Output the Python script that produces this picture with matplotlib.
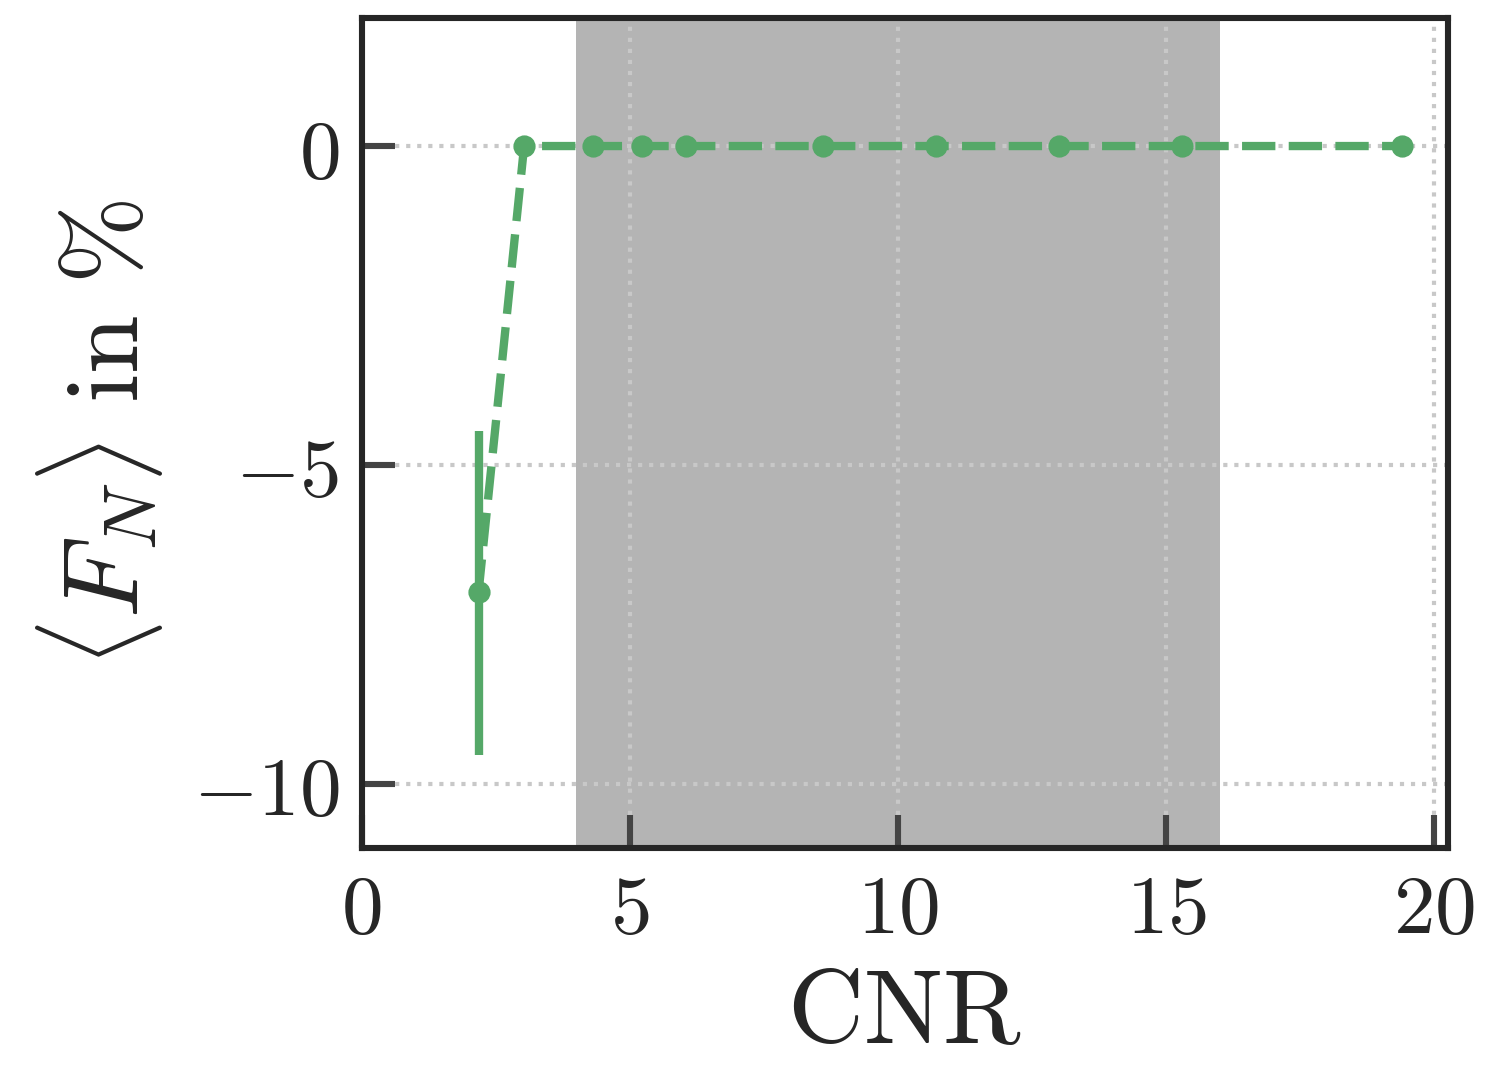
import numpy as np
import matplotlib
matplotlib.use("Agg")
import matplotlib.pyplot as plt

cnr = [2.18, 3.03, 4.32, 5.23, 6.05, 8.61, 10.7, 13.0, 15.3, 19.4]
fn = [-7.0, 0, 0, 0, 0, 0, 0, 0, 0, 0]
err_lo = [2.55, 0, 0, 0, 0, 0, 0, 0, 0, 0]
err_hi = [2.53, 0, 0, 0, 0, 0, 0, 0, 0, 0]
shade = (4, 16)

plt.rcParams.update({
    "mathtext.fontset": "cm",
    "font.family": "serif",
    "font.serif": ["DejaVu Serif"],
})
green = "#55a868"
dark = "#262626"

fig, ax = plt.subplots(figsize=(7.44, 5.44), dpi=200)
fig.subplots_adjust(left=0.243, right=0.973, top=0.983, bottom=0.221)

ax.axvspan(*shade, color="#b4b4b4", lw=0, zorder=0)
ax.errorbar(cnr, fn, yerr=[err_lo, err_hi], color=green, ls="--", lw=3,
            marker="o", ms=7, elinewidth=3, capsize=0, zorder=3, dashes=(4, 1.6))

ax.set_xlim(0, 20.25)
ax.set_ylim(-11, 2)
ax.set_xticks([0, 5, 10, 15, 20])
ax.set_yticks([-10, -5, 0])
ax.set_xticklabels([f"${v}$" for v in [0, 5, 10, 15, 20]])
ax.set_yticklabels(["$-10$", "$-5$", "$0$"])
ax.grid(True, ls=":", color="#c8c8c8", lw=1.5, zorder=1)
ax.set_axisbelow(True)
ax.tick_params(direction="in", length=12, width=2.2, color="#444444",
               labelsize=30, labelcolor=dark, pad=8)
for s in ax.spines.values():
    s.set_linewidth(2.2)
    s.set_color(dark)
ax.set_xlabel(r"$\mathrm{CNR}$", fontsize=38, color=dark, labelpad=4)
ax.set_ylabel(r"$\langle F_N\rangle\ \mathrm{in}\ \%$", fontsize=38, color=dark, labelpad=10)

fig.savefig("out.png", dpi=200)
